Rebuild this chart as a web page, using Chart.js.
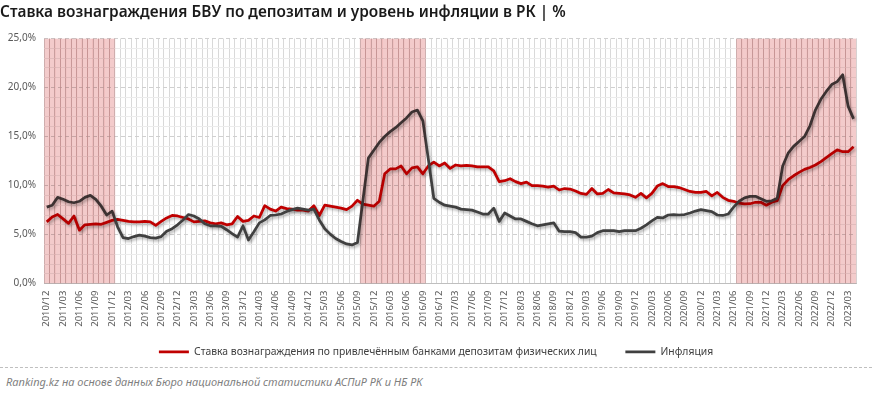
<!DOCTYPE html>
<html lang="ru">
<head>
<meta charset="utf-8">
<script src="https://cdn.jsdelivr.net/npm/chart.js@4.4.1/dist/chart.umd.min.js"></script>
<style>
  html, body { margin: 0; padding: 0; background: #fff; }
  #wrap { position: relative; width: 872px; height: 367px; }
  .source {
    position: absolute; left: 0; top: 367px; width: 872px;
    border-top: 1px dashed #bfbfbf;
    font: italic 11px "Noto Sans", sans-serif; color: #7f7f7f;
    padding: 6px 0 0 6px; box-sizing: border-box;
  }
</style>
</head>
<body>
<div id="wrap"><canvas id="chart"></canvas></div>
<div class="source">Ranking.kz на основе данных Бюро национальной статистики АСПиР РК и НБ РК</div>
<script>
// Monthly series, 2010/12 .. 2023/04
const START_YEAR = 2010;
const START_MONTH = 12;
const MONTH_COUNT = 149;

// Deposit rate on household deposits, %
const depositRate = [
  6.3, 6.8, 7.05, 6.6, 6.15, 6.9, 5.45, 6.0, 6.05, 6.1, 6.05, 6.25, 6.45,      // 2010/12 - 2011/12
  6.55, 6.45, 6.35, 6.3, 6.3, 6.35, 6.3, 5.95, 6.35, 6.7, 6.95,                // 2012/01 - 2012/11
  6.9, 6.75, 6.6, 6.3, 6.35, 6.4, 6.2, 6.1, 6.2, 6.0, 6.1, 6.85,               // 2012/12 - 2013/11
  6.35, 6.45, 6.9, 6.75, 7.95, 7.6, 7.4, 7.8, 7.65, 7.6, 7.5, 7.5,             // 2013/12 - 2014/11
  7.4, 7.95, 6.95, 8.0, 7.9, 7.8, 7.7, 7.55, 7.9, 8.5, 8.1, 8.0,               // 2014/12 - 2015/11
  7.9, 8.4, 11.2, 11.7, 11.7, 12.0, 11.2, 11.8, 11.9, 11.2, 12.0, 12.4,        // 2015/12 - 2016/11
  12.0, 12.3, 11.75, 12.1, 12.0, 12.05, 12.0, 11.9, 11.9, 11.9, 11.5, 10.4,    // 2016/12 - 2017/11
  10.5, 10.7, 10.4, 10.2, 10.35, 10.0, 10.0, 9.95, 9.85, 9.95, 9.55, 9.7,      // 2017/12 - 2018/11
  9.65, 9.45, 9.2, 9.1, 9.7, 9.15, 9.2, 9.6, 9.25, 9.2, 9.15, 9.05,            // 2018/12 - 2019/11
  8.8, 9.2, 8.75, 9.2, 9.95, 10.2, 9.9, 9.9, 9.8, 9.6, 9.4, 9.3,               // 2019/12 - 2020/11
  9.3, 9.4, 8.95, 9.3, 8.8, 8.5, 8.4, 8.2, 8.13, 8.15, 8.3, 8.3,               // 2020/12 - 2021/11
  8.0, 8.3, 8.45, 10.0, 10.6, 11.0, 11.35, 11.65, 11.85, 12.1, 12.45, 12.85,   // 2021/12 - 2022/11
  13.25, 13.65, 13.45, 13.45, 13.95                                            // 2022/12 - 2023/04
];

// Annual inflation, %
const inflation = [
  7.8, 8.0, 8.8, 8.6, 8.35, 8.25, 8.4, 8.8, 9.0, 8.6, 7.9, 7.0, 7.4,
  5.8, 4.7, 4.6, 4.8, 4.95, 4.85, 4.7, 4.65, 4.8, 5.35, 5.6,
  6.0, 6.5, 7.05, 6.9, 6.6, 6.1, 5.9, 5.9, 5.85, 5.5, 5.1, 4.75,
  5.9, 4.45, 5.3, 6.2, 6.5, 6.95, 7.0, 7.1, 7.35, 7.55, 7.7, 7.6,
  7.5, 7.6, 6.5, 5.6, 5.05, 4.6, 4.3, 4.05, 3.95, 4.2, 8.5, 12.8,
  13.6, 14.4, 15.0, 15.5, 15.9, 16.4, 16.9, 17.5, 17.7, 16.6, 12.7, 8.7,
  8.3, 8.0, 7.9, 7.8, 7.6, 7.55, 7.5, 7.3, 7.1, 7.1, 7.7, 6.35,
  7.2, 6.9, 6.6, 6.6, 6.35, 6.1, 5.9, 6.0, 6.1, 6.2, 5.35, 5.3,
  5.3, 5.2, 4.75, 4.75, 4.85, 5.2, 5.4, 5.4, 5.4, 5.3, 5.4, 5.4,
  5.4, 5.65, 6.0, 6.4, 6.75, 6.7, 7.0, 7.05, 7.0, 7.05, 7.2, 7.4,
  7.55, 7.45, 7.35, 7.0, 6.95, 7.1, 7.8, 8.4, 8.75, 8.9, 8.9, 8.65,
  8.4, 8.45, 8.7, 12.0, 13.3, 14.0, 14.5, 15.0, 16.1, 17.7, 18.8, 19.6,
  20.3, 20.6, 21.3, 18.1, 16.8
];

// Highlighted periods (first and last month)
const shadedPeriods = [
  ['2010/12', '2011/12'],
  ['2015/10', '2016/09'],
  ['2021/07', '2023/04']
];
const BAND_TOP = 25;

const SERIES_NAMES = [
  'Ставка вознаграждения по привлечённым банками депозитам физических лиц',
  'Инфляция'
];
const TITLE = 'Ставка вознаграждения БВУ по депозитам и уровень инфляции в РК | %';

// Build month labels like 2010/12
function buildMonths(year, month, count) {
  const out = [];
  for (let i = 0; i < count; i++) {
    out.push(year + '/' + String(month).padStart(2, '0'));
    month++;
    if (month > 12) { month = 1; year++; }
  }
  return out;
}

const months = buildMonths(START_YEAR, START_MONTH, MONTH_COUNT);

// Band values: full height inside a highlighted period, empty elsewhere
const bandValues = months.map(m =>
  shadedPeriods.some(([a, b]) => m >= a && m <= b) ? BAND_TOP : null
);

const FONT = '"Noto Sans", "Open Sans", sans-serif';

// White background, line shadows and multiply blending for the bands
const effects = {
  id: 'effects',
  beforeDraw(chart) {
    const ctx = chart.ctx;
    ctx.save();
    ctx.fillStyle = '#fff';
    ctx.fillRect(0, 0, chart.width, chart.height);
    ctx.restore();
  },
  beforeDatasetDraw(chart, args) {
    const ctx = chart.ctx;
    ctx.save();
    if (args.meta.type === 'bar') {
      ctx.globalCompositeOperation = 'multiply';
    } else {
      ctx.shadowColor = 'rgba(0, 0, 0, 0.3)';
      ctx.shadowBlur = 3;
      ctx.shadowOffsetX = 1.5;
      ctx.shadowOffsetY = 2;
    }
  },
  afterDatasetDraw(chart) {
    chart.ctx.restore();
  }
};

new Chart(document.getElementById('chart'), {
  type: 'line',
  data: {
    labels: months,
    datasets: [
      {
        label: SERIES_NAMES[0],
        data: depositRate,
        borderColor: '#c00000',
        backgroundColor: '#c00000',
        borderWidth: 2.75,
        pointRadius: 0,
        tension: 0,
        borderJoinStyle: 'round',
        order: 2
      },
      {
        label: SERIES_NAMES[1],
        data: inflation,
        borderColor: '#404040',
        backgroundColor: '#404040',
        borderWidth: 2.75,
        pointRadius: 0,
        tension: 0,
        borderJoinStyle: 'round',
        order: 1
      },
      {
        type: 'bar',
        label: 'band',
        data: bandValues,
        backgroundColor: 'rgb(243, 203, 203)',
        borderWidth: 0,
        barPercentage: 1,
        categoryPercentage: 1,
        order: 0
      }
    ]
  },
  options: {
    responsive: true,
    maintainAspectRatio: false,
    animation: false,
    devicePixelRatio: 1,
    layout: { padding: 0 },
    plugins: {
      title: {
        display: true,
        text: TITLE,
        align: 'start',
        color: '#1a1a1a',
        font: { family: FONT, size: 15.4, weight: '600' },
        padding: { top: 3, bottom: 17 }
      },
      legend: {
        position: 'bottom',
        labels: {
          usePointStyle: true,
          pointStyle: 'line',
          pointStyleWidth: 30,
          color: '#404040',
          font: { family: FONT, size: 10.35 },
          padding: 8,
          // two series only; extra space after the first item as in the original
          generateLabels: chart => [0, 1].map(i => {
            const ds = chart.data.datasets[i];
            return {
              text: ds.label + (i === 0 ? '\u2003\u2003' : ''),
              fillStyle: ds.borderColor,
              strokeStyle: ds.borderColor,
              lineWidth: ds.borderWidth,
              pointStyle: 'line',
              fontColor: '#404040',
              datasetIndex: i
            };
          })
        }
      },
      tooltip: { enabled: false }
    },
    scales: {
      x: {
        offset: true,
        afterFit: s => { s.height = 55; },
        grid: { offset: true, color: '#d9d9d9', lineWidth: 1, drawTicks: false },
        border: { display: true, color: '#bfbfbf' },
        ticks: {
          autoSkip: false,
          minRotation: 90,
          maxRotation: 90,
          padding: 7,
          color: '#595959',
          font: { family: FONT, size: 9.5 },
          callback: (v, i) => (i % 3 === 0 ? months[i] : '')
        }
      },
      y: {
        min: 0,
        max: 25,
        afterFit: s => { s.width = 44; },
        grid: { color: '#d0d0d0', drawTicks: false },
        border: { display: false, dash: [4, 3] },
        ticks: {
          stepSize: 5,
          padding: 8,
          color: '#595959',
          font: { family: FONT, size: 10 },
          callback: v => v.toFixed(1).replace('.', ',') + '%'
        }
      },
      yMinor: {
        position: 'right',
        min: 0,
        max: 25,
        afterFit: s => { s.width = 14; },
        grid: {
          drawTicks: false,
          color: c => (c.tick.value % 5 === 0 ? 'rgba(0,0,0,0)' : '#ececec')
        },
        border: { display: false },
        ticks: { display: false, stepSize: 1 }
      }
    }
  },
  plugins: [effects]
});
</script>
</body>
</html>
